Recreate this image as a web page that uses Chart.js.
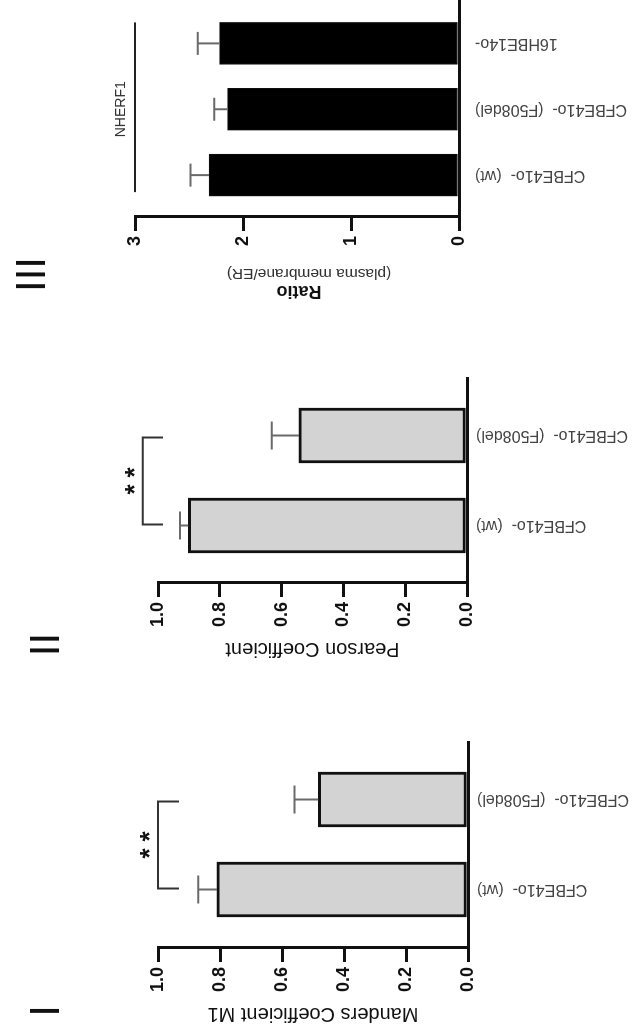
<!DOCTYPE html>
<html>
<head>
<meta charset="utf-8">
<script src="https://cdn.jsdelivr.net/npm/chart.js@4.4.1/dist/chart.umd.min.js"></script>
<style>
  html, body { margin: 0; padding: 0; background: #fff; overflow: hidden; }
  /* the figure is laid out upright, then turned a quarter to the left */
  #figure {
    position: absolute; left: 0; top: 0;
    width: 1031px; height: 641px;
    transform-origin: 0 0;
    transform: translateY(1031px) rotate(-90deg);
  }
  #figure canvas { position: absolute; top: 0; }
</style>
</head>
<body>
<div id="figure">
  <canvas id="c1" width="360" height="641" style="left:0px"></canvas>
  <canvas id="c2" width="360" height="641" style="left:365px"></canvas>
  <canvas id="c3" width="301" height="641" style="left:730px"></canvas>
</div>
<script>
const FONT = "'Liberation Sans', Arial, sans-serif";

// data
const lines2 = ['CFBE41o-  (wt)', 'CFBE41o-  (F508del)'];
const lines3 = ['CFBE41o-  (wt)', 'CFBE41o-  (F508del)', '16HBE14o-'];
const mandersMean = [0.81, 0.483];
const mandersErr = [0.06, 0.077];
const pearsonMean = [0.902, 0.544];
const pearsonErr = [0.027, 0.088];
const ratioMean = [2.315, 2.143, 2.217];
const ratioErr = [0.17, 0.123, 0.203];
const coefTicks = [0, 0.2, 0.4, 0.6, 0.8, 1.0];
const ratioTicks = [0, 1, 2, 3];

// SEM bars, upper side only
const errorBars = {
  id: 'errorBars',
  afterDatasetsDraw(chart, args, opts) {
    const ctx = chart.ctx, y = chart.scales.y;
    const meta = chart.getDatasetMeta(0);
    ctx.save();
    ctx.strokeStyle = '#6a6a6a';
    ctx.lineWidth = 2;
    meta.data.forEach((bar, i) => {
      const top = y.getPixelForValue(opts.means[i]);
      const end = y.getPixelForValue(opts.means[i] + opts.errors[i]);
      ctx.beginPath();
      ctx.moveTo(bar.x, top);
      ctx.lineTo(bar.x, end);
      ctx.moveTo(bar.x - opts.cap / 2, end);
      ctx.lineTo(bar.x + opts.cap / 2, end);
      ctx.stroke();
    });
    ctx.restore();
  }
};

// significance bracket with stars
const bracket = {
  id: 'bracket',
  afterDraw(chart, args, opts) {
    if (!opts.show) return;
    const ctx = chart.ctx, y = chart.scales.y;
    const bars = chart.getDatasetMeta(0).data;
    const x1 = bars[0].x + 1, x2 = bars[1].x - 2;
    const yl = y.getPixelForValue(opts.level), yg = y.getPixelForValue(opts.leg);
    ctx.save();
    ctx.strokeStyle = '#333';
    ctx.lineWidth = 2;
    ctx.beginPath();
    ctx.moveTo(x1, yg); ctx.lineTo(x1, yl); ctx.lineTo(x2, yl); ctx.lineTo(x2, yg);
    ctx.stroke();
    const ys = y.getPixelForValue(opts.star);
    ctx.fillStyle = '#111';
    ctx.font = 'bold 26px ' + FONT;
    ctx.textAlign = 'center';
    ctx.textBaseline = 'alphabetic';
    const xm = (x1 + x2) / 2;
    ctx.fillText('*', xm - 8.5, ys + 15);
    ctx.fillText('*', xm + 8.5, ys + 15);
    ctx.restore();
  }
};

// roman numeral of each panel, plus extra labels
const panelText = {
  id: 'panelText',
  afterDraw(chart, args, opts) {
    const ctx = chart.ctx;
    ctx.save();
    ctx.fillStyle = '#111';
    ctx.font = '42px ' + FONT;
    ctx.textAlign = 'center';
    ctx.textBaseline = 'alphabetic';
    ctx.fillText(opts.numeral, opts.nx, opts.ny);
    if (opts.group) {
      const y = chart.scales.y;
      const bars = chart.getDatasetMeta(0).data;
      const left = bars[0].x - bars[0].width / 2 + 4;
      const right = bars[bars.length - 1].x + bars[bars.length - 1].width / 2;
      const yl = y.getPixelForValue(3);
      ctx.strokeStyle = '#222';
      ctx.lineWidth = 2;
      ctx.beginPath();
      ctx.moveTo(left, yl); ctx.lineTo(right, yl);
      ctx.stroke();
      ctx.font = '14px ' + FONT;
      ctx.fillStyle = '#333';
      ctx.fillText(opts.group, bars[1].x, yl - 10);
      const mid = (y.top + y.bottom) / 2;
      ctx.translate(10.5, mid + 2);
      ctx.rotate(-Math.PI / 2);
      ctx.textBaseline = 'middle';
      ctx.fillStyle = '#111';
      ctx.font = 'bold 18px ' + FONT;
      ctx.fillText('Ratio', 0, 0);
      ctx.font = '15.5px ' + FONT;
      ctx.fillStyle = '#333';
      ctx.fillText('(plasma membrane/ER)', -10, 17);
    }
    ctx.restore();
  }
};

function panel(id, o) {
  return new Chart(document.getElementById(id), {
    type: 'bar',
    data: {
      datasets: [{
        data: o.means.map((v, i) => ({ x: i + 1, y: v })),
        backgroundColor: o.fill,
        borderColor: '#111',
        borderWidth: o.border,
        borderSkipped: false,
        barThickness: o.barW
      }]
    },
    options: {
      responsive: false,
      animation: false,
      devicePixelRatio: 1,
      layout: { padding: { top: o.top, left: 0, right: o.right, bottom: 0 } },
      plugins: {
        legend: { display: false },
        tooltip: { enabled: false },
        errorBars: { means: o.means, errors: o.errors, cap: o.cap },
        bracket: o.bracket || { show: false },
        panelText: o.text
      },
      scales: {
        x: {
          type: 'linear',
          offset: false,
          min: o.xMin,
          max: o.xMax,
          afterBuildTicks: s => { s.ticks = o.labels.map((l, i) => ({ value: i + 1 })); },
          afterFit: s => { s.height = o.xHeight; },
          ticks: {
            callback: (v, i) => o.labels[i],
            autoSkip: false,
            minRotation: 90,
            maxRotation: 90,
            padding: o.labelPad,
            color: '#444',
            font: { family: FONT, size: 16 }
          },
          grid: { offset: false, drawOnChartArea: false, drawTicks: false },
          border: { color: '#111', width: 3 }
        },
        y: {
          min: 0,
          max: o.yMax,
          afterBuildTicks: s => { s.ticks = o.yTicks.map(v => ({ value: v })); },
          afterFit: s => { s.width = o.yWidth; },
          ticks: {
            callback: v => o.yDigits ? v.toFixed(o.yDigits) : String(v),
            padding: 5,
            color: '#111',
            font: { family: FONT, size: 18, weight: 'bold' }
          },
          grid: { drawOnChartArea: false, drawTicks: true, tickLength: 14, color: '#111', lineWidth: 3 },
          border: { color: '#111', width: 3 },
          title: {
            display: !!o.yTitle,
            text: o.yTitle,
            color: '#111',
            padding: { top: 5, bottom: 0 },
            font: { family: FONT, size: 20 }
          }
        }
      }
    },
    plugins: [errorBars, bracket, panelText]
  });
}

panel('c1', {
  labels: lines2, means: mandersMean, errors: mandersErr,
  fill: '#d3d3d3', border: 3, barW: 55, cap: 28,
  top: 158, right: 71, xMin: 0.35, xMax: 2.639, xHeight: 173, labelPad: 9,
  yMax: 1, yTicks: coefTicks, yDigits: 1, yWidth: 83, yTitle: 'Manders Coefficient M1',
  bracket: { show: true, level: 1.0, leg: 0.932, star: 1.048 },
  text: { numeral: 'I', nx: 20, ny: 59 }
});

panel('c2', {
  labels: lines2, means: pearsonMean, errors: pearsonErr,
  fill: '#d3d3d3', border: 3, barW: 55, cap: 28,
  top: 158, right: 72, xMin: 0.361, xMax: 2.639, xHeight: 174, labelPad: 9,
  yMax: 1, yTicks: coefTicks, yDigits: 1, yWidth: 83, yTitle: 'Pearson Coefficient',
  bracket: { show: true, level: 1.049, leg: 0.984, star: 1.097 },
  text: { numeral: 'II', nx: 21.5, ny: 59 }
});

panel('c3', {
  labels: lines3, means: ratioMean, errors: ratioErr,
  fill: '#000', border: 1, barW: 42, cap: 23,
  top: 135, right: 0, xMin: 0.364, xMax: 3.659, xHeight: 182, labelPad: 16,
  yMax: 3, yTicks: ratioTicks, yDigits: 0, yWidth: 84, yTitle: '',
  text: { numeral: 'III', nx: 26.5, ny: 45, group: 'NHERF1' }
});
</script>
</body>
</html>
